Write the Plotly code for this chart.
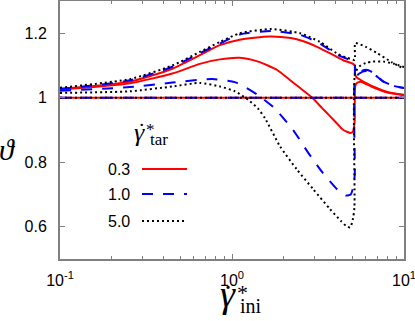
import plotly.graph_objects as go

# relaxed temperature vs initial shear rate, three target rates
x_red_hi = [0.1, 0.255, 0.45, 0.65, 0.85, 1.11, 1.65, 2.2, 2.6, 3.12, 3.8, 4.4, 5.05, 5.17, 5.2, 5.33, 5.6, 6.6, 8.0, 10]
y_red_hi = [1.028, 1.05, 1.09, 1.132, 1.163, 1.18, 1.19, 1.185, 1.175, 1.158, 1.135, 1.117, 1.105, 1.10, 1.07, 1.062, 1.055, 1.035, 1.018, 1.009]
x_red_lo = [0.1, 0.255, 0.45, 0.65, 0.85, 1.11, 1.42, 1.83, 2.17, 2.49, 2.93, 3.34, 3.71, 4.13, 4.44, 4.87, 5.05, 5.12, 5.17, 5.2, 5.3, 5.6, 6.6, 8.0, 10]
y_red_lo = [1.025, 1.045, 1.075, 1.105, 1.119, 1.124, 1.112, 1.086, 1.055, 1.03, 1.0, 0.968, 0.943, 0.917, 0.90, 0.891, 0.895, 0.908, 0.93, 1.035, 1.045, 1.05, 1.032, 1.016, 1.008]
x_red_ref = [0.1, 10]
y_red_ref = [1.0, 1.0]

x_blue_hi = [0.1, 0.255, 0.45, 0.65, 0.85, 1.11, 1.7, 2.49, 3.25, 4.06, 4.6, 5.05, 5.17, 5.2, 5.5, 6.0, 6.5, 7.6, 8.8, 10]
y_blue_hi = [1.027, 1.054, 1.096, 1.138, 1.168, 1.196, 1.207, 1.195, 1.168, 1.134, 1.122, 1.114, 1.112, 1.065, 1.08, 1.087, 1.08, 1.05, 1.036, 1.03]
x_blue_lo = [0.1, 0.255, 0.45, 0.77, 1.07, 1.42, 1.78, 2.3, 2.77, 3.34, 4.19, 4.6, 4.9, 5.05, 5.17, 5.2, 5.5, 6.0, 6.6, 7.6, 8.8, 10]
y_blue_lo = [1.022, 1.033, 1.047, 1.058, 1.046, 1.008, 0.966, 0.895, 0.83, 0.77, 0.71, 0.697, 0.70, 0.72, 0.76, 1.06, 1.075, 1.083, 1.075, 1.05, 1.036, 1.03]
x_blue_ref = [0.1, 10]
y_blue_ref = [1.0, 1.0]

x_black_hi = [0.1, 0.255, 0.45, 0.65, 0.85, 1.11, 1.7, 2.49, 3.25, 4.06, 4.6, 5.05, 5.17, 5.2, 5.4, 6.0, 7.0, 8.5, 10]
y_black_hi = [1.031, 1.058, 1.1, 1.142, 1.173, 1.2, 1.213, 1.2, 1.173, 1.138, 1.125, 1.118, 1.117, 1.17, 1.168, 1.158, 1.138, 1.11, 1.09]
x_black_lo = [0.1, 0.255, 0.45, 0.65, 0.85, 1.04, 1.24, 1.42, 1.56, 1.9, 2.38, 2.96, 3.71, 4.3, 4.6, 4.87, 5.05, 5.15, 5.2, 5.5, 6.0, 6.6, 7.6, 8.8, 10]
y_black_lo = [1.015, 1.02, 1.035, 1.046, 1.035, 1.02, 0.994, 0.966, 0.935, 0.85, 0.778, 0.717, 0.655, 0.618, 0.603, 0.598, 0.625, 0.66, 1.077, 1.097, 1.108, 1.112, 1.112, 1.105, 1.095]
x_black_ref = [0.1, 10]
y_black_ref = [1.0, 1.0]

legend_labels = ["0.3", "1.0", "5.0"]
x_tickvals = [0.1, 1, 10]
x_ticktext = ["10<sup>-1</sup>", "10<sup>0</sup>", "10<sup>1</sup>"]
y_tickvals = [0.6, 0.8, 1.0, 1.2]
y_ticktext = ["0.6", "0.8", "1", "1.2"]

W, H = 415, 321
L, R, T, B = 60, 11, 1, 62


def px(x):
    return (x - L) / (W - L - R)


def py(y):
    return (H - B - y) / (H - T - B)


red = dict(color="#ff0000", width=2)
blue = dict(color="#0000ff", width=2, dash="11px,10px")
black = dict(color="#000000", width=2, dash="2px,3px")

fig = go.Figure()
series = [
    (x_red_ref, y_red_ref, red), (x_red_hi, y_red_hi, red), (x_red_lo, y_red_lo, red),
    (x_blue_ref, y_blue_ref, blue), (x_blue_hi, y_blue_hi, blue), (x_blue_lo, y_blue_lo, blue),
    (x_black_ref, y_black_ref, black), (x_black_hi, y_black_hi, black), (x_black_lo, y_black_lo, black),
]
for xs, ys, ln in series:
    fig.add_trace(go.Scatter(x=xs, y=ys, mode="lines", line=dict(ln, shape="spline", smoothing=0.6),
                             showlegend=False, hoverinfo="skip"))

axis_common = dict(
    showline=True, linecolor="#808080", linewidth=2, mirror="ticks",
    ticks="inside", tickcolor="#808080", ticklen=5, tickwidth=1,
    showgrid=False, zeroline=False, ticklabeloverflow="allow",
    tickfont=dict(family="Liberation Sans", size=16, color="black"),
)

minor_x = [v * d for d in (0.1, 1) for v in range(2, 10)]
fig.update_xaxes(type="log", range=[-1, 1], tickvals=x_tickvals, ticktext=x_ticktext,
                 minor=dict(tickvals=minor_x, ticks="inside", ticklen=3, tickcolor="#808080"),
                 ticklabelstandoff=6, automargin=False, **axis_common)
fig.update_yaxes(range=[0.5, 1.3], tickvals=y_tickvals, ticktext=y_ticktext,
                 ticklabelstandoff=8, automargin=False, **axis_common)

serif = "Liberation Serif"
ann = []
# y title
ann.append(dict(x=px(7), y=py(149), text="<i>ϑ</i>", font=dict(family=serif, size=30)))
# x title: gamma, dot, star, subscript
ann.append(dict(x=px(228), y=py(294), text="<i>γ</i>", font=dict(family=serif, size=38)))
ann.append(dict(x=px(228), y=py(295), text="˙", font=dict(family=serif, size=30)))
ann.append(dict(x=px(243), y=py(292), text="*", font=dict(family=serif, size=22)))
ann.append(dict(x=px(238), y=py(306), text="ini", xanchor="left", font=dict(family=serif, size=20)))
# legend title
ann.append(dict(x=px(139), y=py(132), text="<i>γ</i>", font=dict(family=serif, size=26)))
ann.append(dict(x=px(141), y=py(130), text="˙", font=dict(family=serif, size=22)))
ann.append(dict(x=px(150), y=py(129), text="*", font=dict(family=serif, size=17)))
ann.append(dict(x=px(148), y=py(139), text="tar", xanchor="left", font=dict(family=serif, size=17)))

legend_rows = [169, 194, 221]
legend_lines = [red, blue, black]
shapes = []
for lab, row, ln in zip(legend_labels, legend_rows, legend_lines):
    ann.append(dict(x=px(132), y=py(row), text=lab, xanchor="right",
                    font=dict(family="Liberation Sans", size=16)))
    shapes.append(dict(type="line", xref="paper", yref="paper", x0=px(142), x1=px(187),
                       y0=py(row), y1=py(row), line=ln))

for a in ann:
    a.update(xref="paper", yref="paper", showarrow=False)
    a.setdefault("xanchor", "center")
    a.setdefault("yanchor", "middle")
    a["font"].setdefault("color", "black")

fig.update_layout(
    width=W, height=H, margin=dict(l=L, r=R, t=T, b=B, pad=0),
    plot_bgcolor="white", paper_bgcolor="white",
    annotations=ann, shapes=shapes, showlegend=False,
)

# the page body has a default 8px margin; drop it so the figure sits at the corner
fig.write_html("out.html", config={"displayModeBar": False},
               post_script="document.body.style.margin='0';document.body.style.overflow='hidden';")
